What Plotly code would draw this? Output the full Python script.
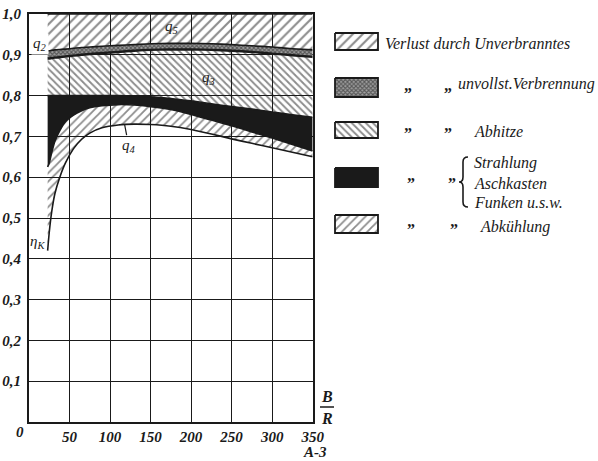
import plotly.graph_objects as go

# ---------------- data ----------------
x = [23, 25, 28, 32, 38, 45, 55, 65, 75, 90, 110, 130, 150, 175, 200, 225, 250, 275, 300, 325, 350]
# eta_K / q4 lower boundary (bottom of "Abkühlung")
eta_k = [0.420, 0.465, 0.515, 0.560, 0.600, 0.635, 0.670, 0.693, 0.708, 0.721, 0.728, 0.730, 0.729,
         0.725, 0.717, 0.706, 0.694, 0.683, 0.672, 0.661, 0.650]
# top of "Abkühlung" (bottom of Strahlung band)
abk_top = [0.625, 0.635, 0.660, 0.688, 0.714, 0.736, 0.752, 0.763, 0.770, 0.775, 0.778, 0.777, 0.773,
           0.766, 0.754, 0.740, 0.726, 0.711, 0.696, 0.680, 0.664]
# top of "Strahlung" band (q3 lower line)
strahl_top = [0.800, 0.800, 0.800, 0.800, 0.800, 0.800, 0.800, 0.800, 0.800, 0.800, 0.800, 0.799, 0.797,
              0.793, 0.787, 0.780, 0.773, 0.767, 0.760, 0.753, 0.747]
# top of "Abhitze" (q2 line)
abhitze_top = [0.891, 0.891, 0.892, 0.893, 0.894, 0.896, 0.898, 0.900, 0.902, 0.904, 0.907, 0.910, 0.912,
               0.913, 0.913, 0.912, 0.910, 0.907, 0.903, 0.899, 0.895]
# top of "unvollst. Verbrennung"
unvoll_top = [0.910, 0.910, 0.911, 0.912, 0.913, 0.914, 0.916, 0.918, 0.919, 0.921, 0.923, 0.925, 0.927,
              0.928, 0.928, 0.927, 0.925, 0.922, 0.919, 0.915, 0.912]
# top of "Unverbranntes"
total_top = [1.0] * len(x)

x_ticks = [50, 100, 150, 200, 250, 300, 350]
x_ticktext = ["50", "100", "150", "200", "250", "300", "350"]
y_ticks = [0.1, 0.2, 0.3, 0.4, 0.5, 0.6, 0.7, 0.8, 0.9, 1.0]
y_ticktext = ["0,1", "0,2", "0,3", "0,4", "0,5", "0,6", "0,7", "0,8", "0,9", "1,0"]

legend_labels = ["Verlust durch Unverbranntes", "unvollst.Verbrennung", "Abhitze",
                 "Strahlung", "Aschkasten", "Funken u.s.w.", "Abkühlung"]

FONT = "Liberation Sans Narrow"
INK = "#1a1a1a"

pat_unverbr = dict(shape="/", size=7, solidity=0.3, fgcolor=INK, bgcolor="rgba(0,0,0,0)")
pat_unvoll = dict(shape="x", size=3, solidity=0.6, fgcolor="#111111", bgcolor="#a0a0a0")
pat_abhitze = dict(shape="\\", size=5, solidity=0.38, fgcolor=INK, bgcolor="rgba(0,0,0,0)")
pat_abk = dict(shape="/", size=6, solidity=0.3, fgcolor=INK, bgcolor="rgba(0,0,0,0)")

fig = go.Figure()
line = dict(color=INK, width=1.6, shape="spline", smoothing=0.6)

fig.add_trace(go.Scatter(x=x, y=eta_k, mode="lines", line=line, showlegend=False))
fig.add_trace(go.Scatter(x=x, y=abk_top, mode="lines", line=line, fill="tonexty",
                         fillcolor="rgba(0,0,0,0)", fillpattern=pat_abk, showlegend=False))
fig.add_trace(go.Scatter(x=x, y=strahl_top, mode="lines", line=line, fill="tonexty",
                         fillcolor=INK, showlegend=False))
fig.add_trace(go.Scatter(x=x, y=abhitze_top, mode="lines",
                         line=dict(color=INK, width=2.4, shape="spline", smoothing=0.6),
                         fill="tonexty", fillcolor="rgba(0,0,0,0)", fillpattern=pat_abhitze, showlegend=False))
fig.add_trace(go.Scatter(x=x, y=unvoll_top, mode="lines", line=line, fill="tonexty",
                         fillcolor="#a0a0a0", fillpattern=pat_unvoll, showlegend=False))
fig.add_trace(go.Scatter(x=x, y=total_top, mode="lines", line=line, fill="tonexty",
                         fillcolor="rgba(0,0,0,0)", fillpattern=pat_unverbr, showlegend=False))

# ---------------- legend drawn on a helper pixel axis ----------------
box_x = [335, 378]
box_rows = [(33, 50), (78, 97), (122, 138), (168, 187), (215, 233)]
box_styles = [
    dict(fillcolor="#ffffff", fillpattern=pat_unverbr),
    dict(fillcolor="#a0a0a0", fillpattern=pat_unvoll),
    dict(fillcolor="#ffffff", fillpattern=pat_abhitze),
    dict(fillcolor=INK),
    dict(fillcolor="#ffffff", fillpattern=pat_abk),
]
for (y0, y1), st in zip(box_rows, box_styles):
    fig.add_trace(go.Scatter(x=[box_x[0], box_x[1], box_x[1], box_x[0], box_x[0]],
                             y=[y0, y0, y1, y1, y0], mode="lines", fill="toself",
                             line=dict(color=INK, width=1.8), xaxis="x2", yaxis="y2",
                             showlegend=False, hoverinfo="skip", **st))

lf = dict(family=FONT, size=16, color=INK, style="italic")
qf = dict(family=FONT, size=16, color=INK, weight="bold")
leg_text = [
    (383, 43, legend_labels[0], lf),
    (402, 85, "„", qf), (442, 85, "„", qf), (456, 84, legend_labels[1], lf),
    (402, 133, "”", qf), (442, 133, "”", qf), (472, 131, legend_labels[2], lf),
    (405, 183, "”", qf), (446, 183, "”", qf),
    (472, 163, legend_labels[3], lf), (472, 183, legend_labels[4], lf), (472, 202, legend_labels[5], lf),
    (405, 229, "”", qf), (448, 229, "”", qf), (478, 227, legend_labels[6], lf),
]
for tx, ty, tt, ff in leg_text:
    fig.add_annotation(x=tx, y=ty, xref="x2", yref="y2", text=tt, showarrow=False,
                       xanchor="left", yanchor="middle", font=ff)
# brace
fig.add_shape(type="path", xref="x2", yref="y2",
              path="M 468,157 Q 463,157 463,162 L 463,177 Q 463,182 459,182 "
                   "Q 463,182 463,187 L 463,202 Q 463,207 468,207",
              line=dict(color=INK, width=1.6))

# B / R axis label and A-3
brf = dict(family=FONT, size=16, color=INK, style="italic", weight="bold")
fig.add_annotation(x=327, y=396, xref="x2", yref="y2", text="B", showarrow=False, font=brf)
fig.add_annotation(x=327, y=418, xref="x2", yref="y2", text="R", showarrow=False, font=brf)
fig.add_shape(type="line", xref="x2", yref="y2", x0=320, x1=334, y0=407, y1=407,
              line=dict(color=INK, width=1.6))

tf = dict(family=FONT, size=15, color=INK, style="italic", weight="bold")
fig.add_annotation(x=350, y=0, text="A-3", showarrow=False, yshift=-30, xshift=2, font=tf)
fig.add_annotation(x=0, y=0, text="0", showarrow=False, yshift=-10, xshift=-9, font=tf)

# curve labels
cf = dict(family=FONT, size=15, color=INK, style="italic")
fig.add_annotation(x=13, y=0.926, text="q<sub>2</sub>", showarrow=False, font=cf, bgcolor="#ffffff")
fig.add_annotation(x=176, y=0.968, text="q<sub>5</sub>", showarrow=False, font=cf)
fig.add_annotation(x=222, y=0.843, text="q<sub>3</sub>", showarrow=False, font=cf)
fig.add_annotation(x=118, y=0.729, text="q<sub>4</sub>", showarrow=True, arrowhead=0,
                   arrowwidth=1.2, arrowcolor=INK, ax=4, ay=21, font=cf)
fig.add_annotation(x=10.5, y=0.44, text="η<sub>K</sub>", showarrow=False, font=cf)

fig.update_layout(
    width=598, height=461,
    margin=dict(l=29, r=0, t=14, b=39),
    paper_bgcolor="#ffffff", plot_bgcolor="#ffffff",
    showlegend=False,
    xaxis=dict(domain=[0, 0.4985], range=[0, 350], tickvals=x_ticks, ticktext=x_ticktext,
               showgrid=True, gridcolor=INK, gridwidth=1.2, zeroline=False,
               showline=True, linecolor=INK, linewidth=1.8, mirror=True, ticks="", ticklen=0,
               tickfont=tf, automargin=False, ticklabelstandoff=0),
    yaxis=dict(range=[0, 1.0], tickvals=y_ticks, ticktext=y_ticktext,
               showgrid=True, gridcolor=INK, gridwidth=1.2, zeroline=False,
               showline=True, linecolor=INK, linewidth=1.8, mirror=True, ticks="", ticklen=0,
               tickfont=tf, ticklabelstandoff=3, automargin=False),
    xaxis2=dict(domain=[0.5, 1.0], range=[313.5, 598], visible=False, anchor="y2", automargin=False),
    yaxis2=dict(domain=[0, 1], range=[422, 14], visible=False, anchor="x2", automargin=False),
)

fig.write_html("out.html", config={"displayModeBar": False},
               post_script="document.body.style.margin='0px';")
